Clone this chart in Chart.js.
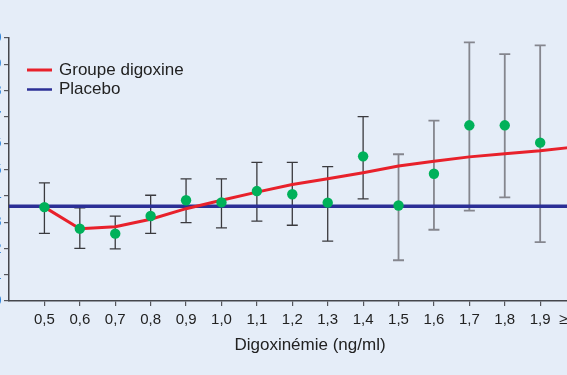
<!DOCTYPE html>
<html>
<head>
<meta charset="utf-8">
<script src="https://cdn.jsdelivr.net/npm/chart.js@4/dist/chart.umd.min.js"></script>
<style>
  html, body { margin:0; padding:0; background:#e5edf8; overflow:hidden; width:567px; height:375px; }
  #wrap { position:absolute; left:-40px; top:0; width:691px; height:375px; }
</style>
</head>
<body>
<div id="wrap"><canvas id="chart" width="691" height="375"></canvas></div>
<script>
  // ---------- Data ----------
  const xTicks   = [0.5,0.6,0.7,0.8,0.9,1.0,1.1,1.2,1.3,1.4,1.5,1.6,1.7,1.8,1.9,2.0];
  const xLabels  = ['0,5','0,6','0,7','0,8','0,9','1,0','1,1','1,2','1,3','1,4','1,5','1,6','1,7','1,8','1,9','\u2265 2,0'];
  const yTicks   = [0,1,2,3,4,5,6,7,8,9,10];

  // observed means + error bars (digoxin group)
  const obsX     = [0.5,0.6,0.7,0.8,0.9,1.0,1.1,1.2,1.3,1.4,1.5,1.6,1.7,1.8,1.9];
  const obsY     = [3.57,2.75,2.56,3.23,3.83,3.75,4.18,4.06,3.74,5.50,3.63,4.84,6.68,6.68,6.02];
  const obsHigh  = [4.49,3.54,3.23,4.02,4.64,4.64,5.27,5.27,5.11,7.01,5.58,6.86,9.83,9.39,9.72];
  const obsLow   = [2.57,2.00,1.98,2.57,2.98,2.78,3.04,2.88,2.28,3.88,1.55,2.71,3.44,3.94,2.24];

  // fitted curve, digoxin group
  const fitX     = [0.5,0.6,0.7,0.8,0.9,1.0,1.1,1.2,1.3,1.4,1.5,1.6,1.7,1.8,1.9,2.0];
  const fitY     = [3.57,2.75,2.82,3.11,3.51,3.83,4.14,4.43,4.65,4.88,5.13,5.31,5.48,5.60,5.71,5.86];

  // placebo reference level
  const placeboX = [0.4,2.1];
  const placeboY = [3.60,3.60];

  const legendItems = ['Groupe digoxine','Placebo'];

  // ---------- Plugins ----------
  const errorBars = {
    id:'errorBars',
    beforeDatasetsDraw(chart){
      const {ctx, scales:{x,y}} = chart;
      ctx.save();
      obsX.forEach((v,i)=>{
        const px = x.getPixelForValue(v);
        const top = y.getPixelForValue(obsHigh[i]);
        const bot = y.getPixelForValue(obsLow[i]);
        ctx.strokeStyle = i >= 10 ? '#85868e' : '#3a3a3e';
        ctx.lineWidth = i >= 10 ? 1.8 : 1.3;
        ctx.beginPath();
        ctx.moveTo(px,top); ctx.lineTo(px,bot);
        ctx.moveTo(px-5.5,top); ctx.lineTo(px+5.5,top);
        ctx.moveTo(px-5.5,bot); ctx.lineTo(px+5.5,bot);
        ctx.stroke();
      });
      ctx.restore();
    }
  };

  const legendBox = {
    id:'legendBox',
    afterDraw(chart){
      const {ctx} = chart;
      const colors = ['#e8212b','#2b2f96'];
      const widths = [3,2.5];
      ctx.save();
      ctx.font = '17px "Liberation Sans", Arial, sans-serif';
      ctx.textBaseline = 'middle';
      legendItems.forEach((t,i)=>{
        const yy = 70 + i*19.5;
        ctx.strokeStyle = colors[i]; ctx.lineWidth = widths[i];
        ctx.beginPath(); ctx.moveTo(67,yy); ctx.lineTo(92,yy); ctx.stroke();
        ctx.fillStyle = '#222';
        ctx.fillText(t, 99, yy);
      });
      ctx.restore();
    }
  };

  // ---------- Chart ----------
  const font = '"Liberation Sans", Arial, sans-serif';
  new Chart(document.getElementById('chart'), {
    type:'scatter',
    data:{
      datasets:[
        {
          label:'Observed',
          data: obsX.map((v,i)=>({x:v,y:obsY[i]})),
          backgroundColor:'#00b15a', borderWidth:0,
          pointRadius:5.2, order:0
        },
        {
          label:legendItems[0], type:'line',
          data: fitX.map((v,i)=>({x:v,y:fitY[i]})),
          borderColor:'#e8212b', borderWidth:3, pointRadius:0,
          tension:0, borderJoinStyle:'round', fill:false, order:1
        },
        {
          label:legendItems[1], type:'line',
          data: placeboX.map((v,i)=>({x:v,y:placeboY[i]})),
          borderColor:'#2b2f96', borderWidth:3.6, pointRadius:0, fill:false, order:2
        }
      ]
    },
    options:{
      responsive:false,
      animation:false,
      layout:{ padding:{ left:0, top:38, right:40, bottom:0 } },
      plugins:{ legend:{display:false}, tooltip:{enabled:false} },
      scales:{
        x:{
          type:'linear', min:0.4, max:2.1, position:'bottom',
          afterBuildTicks: s => { s.ticks = xTicks.map(v=>({value:v})); },
          afterFit: s => { s.height = 74; },
          grid:{ display:true, drawOnChartArea:false, drawTicks:true, tickLength:5, color:'#55565c', lineWidth:1.2 },
          border:{ display:true, color:'#45464c', width:1.5 },
          ticks:{
            autoSkip:false, maxRotation:0, padding:5, color:'#222',
            font:{ family:font, size:15 },
            callback:(v)=>{ const i = xTicks.findIndex(t=>Math.abs(t-v)<1e-6); return i>=0 ? xLabels[i] : ''; }
          },
          title:{ display:true, text:'Digoxin\u00e9mie (ng/ml)', color:'#222', font:{ family:font, size:17 }, padding:{top:0,bottom:19} }
        },
        y:{
          min:0, max:10,
          afterBuildTicks: s => { s.ticks = yTicks.map(v=>({value:v})); },
          afterFit: s => { s.width = 49; },
          grid:{ display:true, drawOnChartArea:false, drawTicks:true, tickLength:5, color:'#55565c', lineWidth:1.2 },
          border:{ display:true, color:'#45464c', width:1.5 },
          ticks:{ padding:2.5, color:'#2a80d8', font:{ family:font, size:15 } }
        }
      }
    },
    plugins:[errorBars, legendBox]
  });
</script>
</body>
</html>
